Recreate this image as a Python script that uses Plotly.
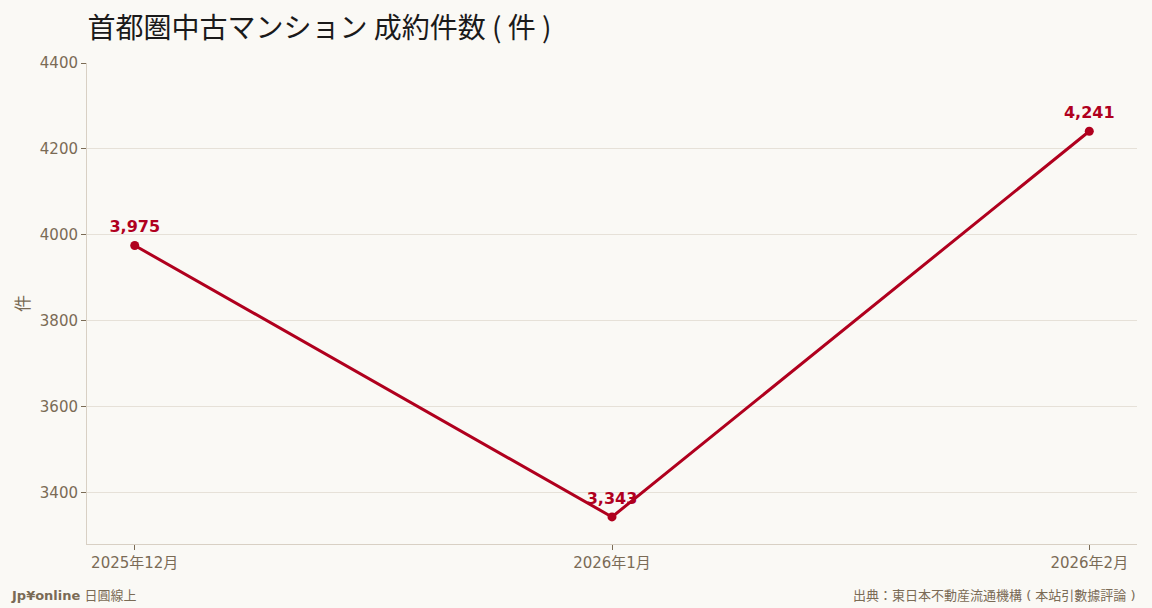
import plotly.graph_objects as go

months = ["2025年12月", "2026年1月", "2026年2月"]
deals = [3975, 3343, 4241]
deal_labels = ["3,975", "3,343", "4,241"]
y_ticks = [3400, 3600, 3800, 4000, 4200, 4400]

RED = "#b0001e"
INK = "#7a6b55"
BG = "#faf9f5"
FONT = "DejaVu Sans, Noto Sans CJK JP, sans-serif"

fig = go.Figure()
# labels first so the line is drawn over them
fig.add_trace(go.Scatter(
    x=months, y=deals, mode="markers+text", text=deal_labels,
    textposition="top center",
    marker=dict(size=13, opacity=0),
    textfont=dict(family="DejaVu Sans, sans-serif", size=16, color=RED, weight="bold"),
    showlegend=False, hoverinfo="skip",
))
fig.add_trace(go.Scatter(
    x=months, y=deals, mode="lines+markers",
    line=dict(color=RED, width=3),
    marker=dict(color=RED, size=9),
    showlegend=False,
))

fig.update_layout(
    width=1152, height=608,
    paper_bgcolor=BG, plot_bgcolor=BG,
    margin=dict(l=87, r=15, t=63, b=64),
    font=dict(family=FONT, color=INK, size=15),
    title=dict(text="首都圏中古マンション 成約件数 ( 件 )", x=0.076, xanchor="left",
               y=0.954, yanchor="middle",
               font=dict(family="Noto Sans CJK JP, sans-serif", size=28, color="#1a1a1a")),
    xaxis=dict(type="category", range=[-0.1, 2.1], showgrid=False,
               showline=True, linecolor="#d8d0c4", ticks="outside", tickcolor=INK,
               ticklen=5, tickfont=dict(size=15, color=INK)),
    yaxis=dict(range=[3280, 4400], tickvals=y_ticks, showgrid=True, gridcolor="#e6e1d8",
               showline=True, linecolor="#d8d0c4", ticks="outside", tickcolor=INK,
               ticklen=5, zeroline=False, tickfont=dict(size=15, color=INK),
               title=dict(text="件", font=dict(size=17, color=INK), standoff=5)),
)

# footer positions in pixels -> paper coords
ph = 608 - 63 - 64
pw = 1152 - 87 - 15
fig.add_annotation(text="<b>Jp¥online</b> 日圓線上", x=(9 - 87) / pw, y=-(595 - 544) / ph,
                   xref="paper", yref="paper", xanchor="left", yanchor="middle",
                   showarrow=False, font=dict(size=13, color=INK, family=FONT))
fig.add_annotation(text="出典：東日本不動産流通機構 ( 本站引數據評論 )", x=(1138 - 87) / pw,
                   y=-(595 - 544) / ph, xref="paper", yref="paper", xanchor="right",
                   yanchor="middle", showarrow=False, font=dict(size=13, color=INK, family=FONT))

fig.write_html("out.html", config={"displayModeBar": False},
               post_script="document.body.style.margin='0';")
